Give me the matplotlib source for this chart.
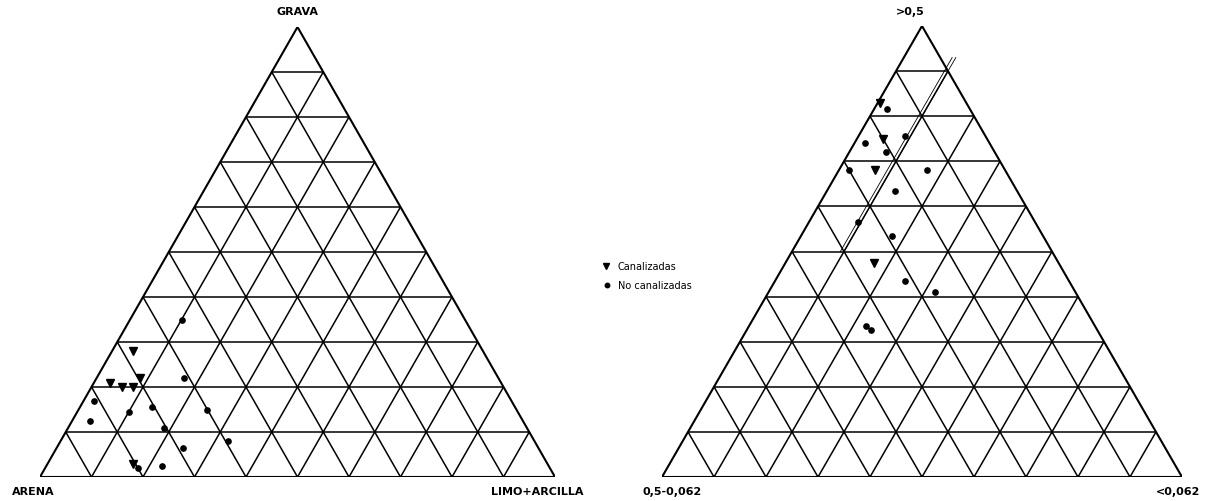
import numpy as np
import matplotlib.pyplot as plt

plt.rcParams['font.family'] = ['DejaVu Sans']

# Left diagram: GRAVA / ARENA / LIMO+ARCILLA, values in % (top, right-hand component)
grava_can = [28, 21, 20, 20, 22, 3]
limo_can = [4, 3, 6, 8, 8.5, 16.5]
grava_no = [35, 22, 17, 12.5, 15.5, 14.5, 11, 15, 6.5, 8, 2.5, 2]
limo_no = [10, 17, 2, 3.5, 14, 10, 18.5, 25, 24.5, 32.5, 22.5, 18]

# Right diagram: >0,5 / 0,5-0,062 / <0,062, values in %
gr_can = [83, 75, 68, 47.5]
fi_can = [0.5, 5, 7, 17]
gr_no = [81.5, 74, 75.5, 72, 68, 68, 63.5, 56.5, 53.5, 43.5, 41, 33.5, 32.5]
fi_no = [2.5, 2, 9, 7, 2, 17, 13, 9.5, 17.5, 25, 32, 22.5, 24]

H = np.sqrt(3) / 2


def tern(top, right):
    t = np.asarray(top, float) / 100
    r = np.asarray(right, float) / 100
    return r + t / 2, t * H


def draw_grid(ax):
    for i in range(1, 10):
        f = i * 10
        # lines of constant top, right and left component
        for a, b in [((f, 0), (f, 100 - f)),
                     ((0, f), (100 - f, f)),
                     ((0, 100 - f), (100 - f, 0))]:
            x, y = tern([a[0], b[0]], [a[1], b[1]])
            ax.plot(x, y, color='black', lw=1.1, solid_capstyle='butt')
    x, y = tern([0, 0, 100, 0], [0, 100, 0, 0])
    ax.plot(x, y, color='black', lw=1.5, solid_joinstyle='miter')
    ax.set_xlim(0, 1)
    ax.set_ylim(0, H)
    ax.axis('off')


def draw_points(ax, tc, rc, tn, rn):
    x, y = tern(tc, rc)
    ax.plot(x, y, 'v', color='black', ms=5.5, ls='none', clip_on=False)
    x, y = tern(tn, rn)
    ax.plot(x, y, 'o', color='black', ms=3.8, ls='none', clip_on=False)


fig = plt.figure(figsize=(12.08, 5.02), dpi=100)
W, Hp = 1208, 502

ax1 = fig.add_axes([40 / W, 24 / Hp, 515 / W, 450 / Hp])
draw_grid(ax1)
draw_points(ax1, grava_can, limo_can, grava_no, limo_no)

ax2 = fig.add_axes([662 / W, 24 / Hp, 520 / W, 451 / Hp])
draw_grid(ax2)
draw_points(ax2, gr_can, fi_can, gr_no, fi_no)

# double boundary line along 10 % of <0,062
for off in (9.3, 10.0):
    x, y = tern([93, 50], [off, off])
    ax2.plot(x, y, color='black', lw=0.6, clip_on=False)

lab = dict(fontsize=8, fontweight='bold', color='black', textcoords='offset pixels')
ax1.annotate('GRAVA', (0.5, H), xytext=(0, 16), ha='center', va='center', **lab)
ax1.annotate('ARENA', (0, 0), xytext=(-28, -14), ha='left', va='center', **lab)
ax1.annotate('LIMO+ARCILLA', (1, 0), xytext=(-18, -14), ha='center', va='center', **lab)
ax2.annotate('>0,5', (0.5, H), xytext=(-12, 15), ha='center', va='center', **lab)
ax2.annotate('0,5-0,062', (0, 0), xytext=(10, -14), ha='center', va='center', **lab)
ax2.annotate('<0,062', (1, 0), xytext=(-4, -14), ha='center', va='center', **lab)

# legend
fig.lines.append(plt.Line2D([606 / W], [1 - 267 / Hp], marker='v', color='black',
                            ms=4.5, ls='none', transform=fig.transFigure))
fig.lines.append(plt.Line2D([607 / W], [1 - 286 / Hp], marker='o', color='black',
                            ms=3.2, ls='none', transform=fig.transFigure))
fig.text(618 / W, 1 - 267 / Hp, 'Canalizadas', fontsize=7, va='center')
fig.text(618 / W, 1 - 286 / Hp, 'No canalizadas', fontsize=7, va='center')

fig.savefig('out.png', dpi=100, facecolor='white')
